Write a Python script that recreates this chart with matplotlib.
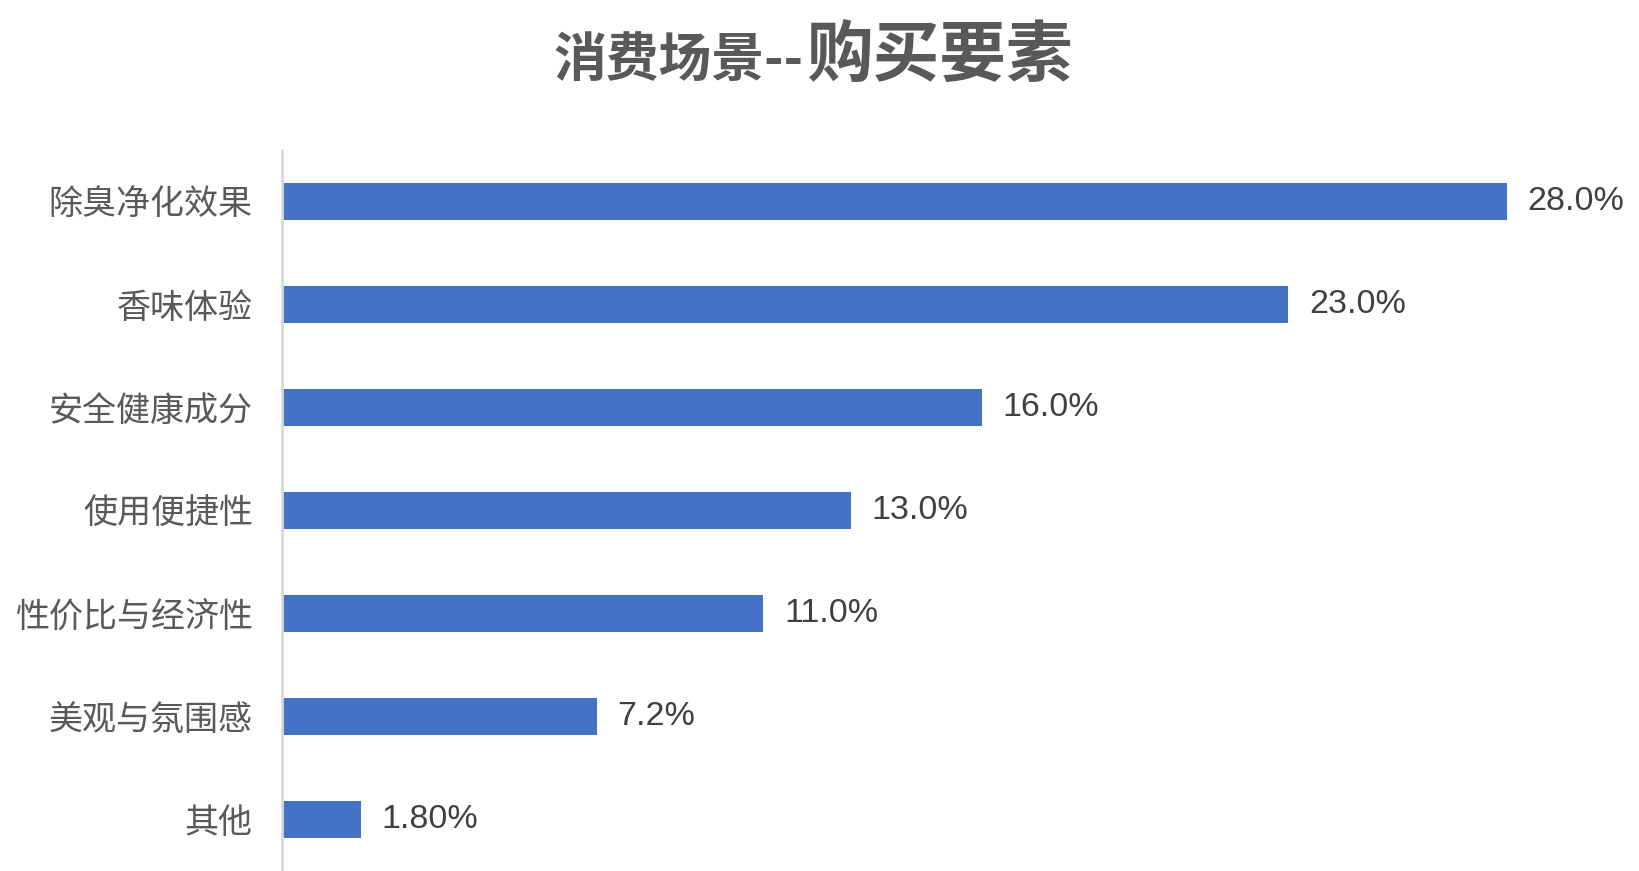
import matplotlib
matplotlib.use("Agg")
import matplotlib.pyplot as plt

plt.rcParams['font.family'] = ['Noto Sans CJK SC', 'DejaVu Sans']

categories = ["除臭净化效果", "香味体验", "安全健康成分", "使用便捷性",
              "性价比与经济性", "美观与氛围感", "其他"]
values = [28.0, 23.0, 16.0, 13.0, 11.0, 7.2, 1.8]
value_labels = ["28.0%", "23.0%", "16.0%", "13.0%", "11.0%", "7.2%", "1.80%"]

fig = plt.figure(figsize=(16.4, 8.71), dpi=100)
ax = fig.add_axes([282 / 1640, 0.0, 1 - 282 / 1640, 1 - 150 / 871])

y = list(range(len(categories)))
ax.barh(y, values, height=0.35, color="#4472C4")
ax.set_ylim(len(categories) - 0.5, -0.5)
ax.set_xlim(0, 31.05)

ax.set_yticks(y)
ax.set_yticklabels(categories, fontsize=24.5, color="#595959")
ax.tick_params(axis="y", length=0, pad=21)
ax.set_xticks([])

for s in ["top", "right", "bottom"]:
    ax.spines[s].set_visible(False)
ax.spines["left"].set_color("#D9D9D9")
ax.spines["left"].set_linewidth(2)

for yi, v, lab in zip(y, values, value_labels):
    ax.annotate(lab, (v, yi), xytext=(15, 0), textcoords="offset points",
                va="center", ha="left", fontsize=24.5, color="#404040",
                family="Liberation Sans")

# title in two sizes
fig.text(553 / 1640, 1 - 76 / 871, "消费场景--", fontsize=38, fontweight="bold",
         color="#595959", ha="left", va="baseline")
fig.text(806 / 1640, 1 - 76 / 871, "购买要素", fontsize=48, fontweight="bold",
         color="#595959", ha="left", va="baseline")

fig.savefig("out.png", dpi=100)
